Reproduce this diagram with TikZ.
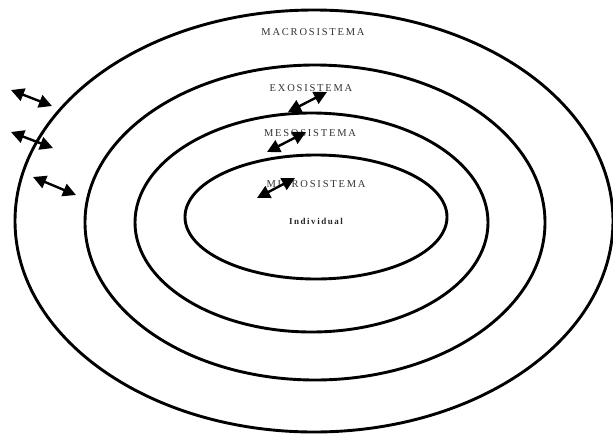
\documentclass[tikz,border=0pt]{standalone}
\usepackage{fontspec}
\setmainfont{Liberation Serif}
\newfontfamily\labelfont[LetterSpace=17]{Liberation Serif}
\usetikzlibrary{arrows.meta}

\begin{document}
\begin{tikzpicture}[
    x = 1pt,
    y = -1pt,
    ring/.style = {
        draw = black,
        line width = 2.9pt
    },
    level/.style = {
        font = \labelfont\fontsize{10.5}{12}\selectfont,
        text = black!80,
        inner sep = 0pt
    },
    person/.style = {
        font = \labelfont\bfseries\fontsize{9}{10}\selectfont,
        text = black!85,
        inner sep = 0pt
    },
    arrow/.style = {
        {Triangle[length=13pt,width=13pt]}-{Triangle[length=13pt,width=13pt]},
        line width = 2.4pt,
        black
    }
]

    \useasboundingbox (0,0) rectangle (613,434);

    % Rings
    \draw [ring] (314,221) ellipse [x radius = 299pt, y radius = 211pt];
    \draw [ring] (315,222.5) ellipse [x radius = 230pt, y radius = 157.5pt];
    \draw [ring] (311.5,222.5) ellipse [x radius = 176.5pt, y radius = 109.5pt];
    \draw [ring] (316,217) ellipse [x radius = 131pt, y radius = 62pt];

    % Nodes
    \node [level] (macro) at (313,32) {MACROSISTEMA};
    \node [level] (exo) at (311,88) {EXOSISTEMA};
    \node [level] (meso) at (310,133) {MESOSISTEMA};
    \node [level] (micro) at (316,184) {MICROSISTEMA};
    \node [person] (ind) at (316,221) {Individual};

    % Arrow ends
    \coordinate (a1) at (11,90);
    \coordinate (b1) at (52,106);
    \coordinate (a2) at (11,132);
    \coordinate (b2) at (53,148);
    \coordinate (a3) at (33,177);
    \coordinate (b3) at (76,195);
    \coordinate (a4) at (288,112);
    \coordinate (b4) at (327,92);
    \coordinate (a5) at (267,152);
    \coordinate (b5) at (306,132);
    \coordinate (a6) at (257,198);
    \coordinate (b6) at (295,178);

    % Arrows
    \draw [arrow] (a1) -- (b1);
    \draw [arrow] (a2) -- (b2);
    \draw [arrow] (a3) -- (b3);
    \draw [arrow] (a4) -- (b4);
    \draw [arrow] (a5) -- (b5);
    \draw [arrow] (a6) -- (b6);

\end{tikzpicture}
\end{document}
